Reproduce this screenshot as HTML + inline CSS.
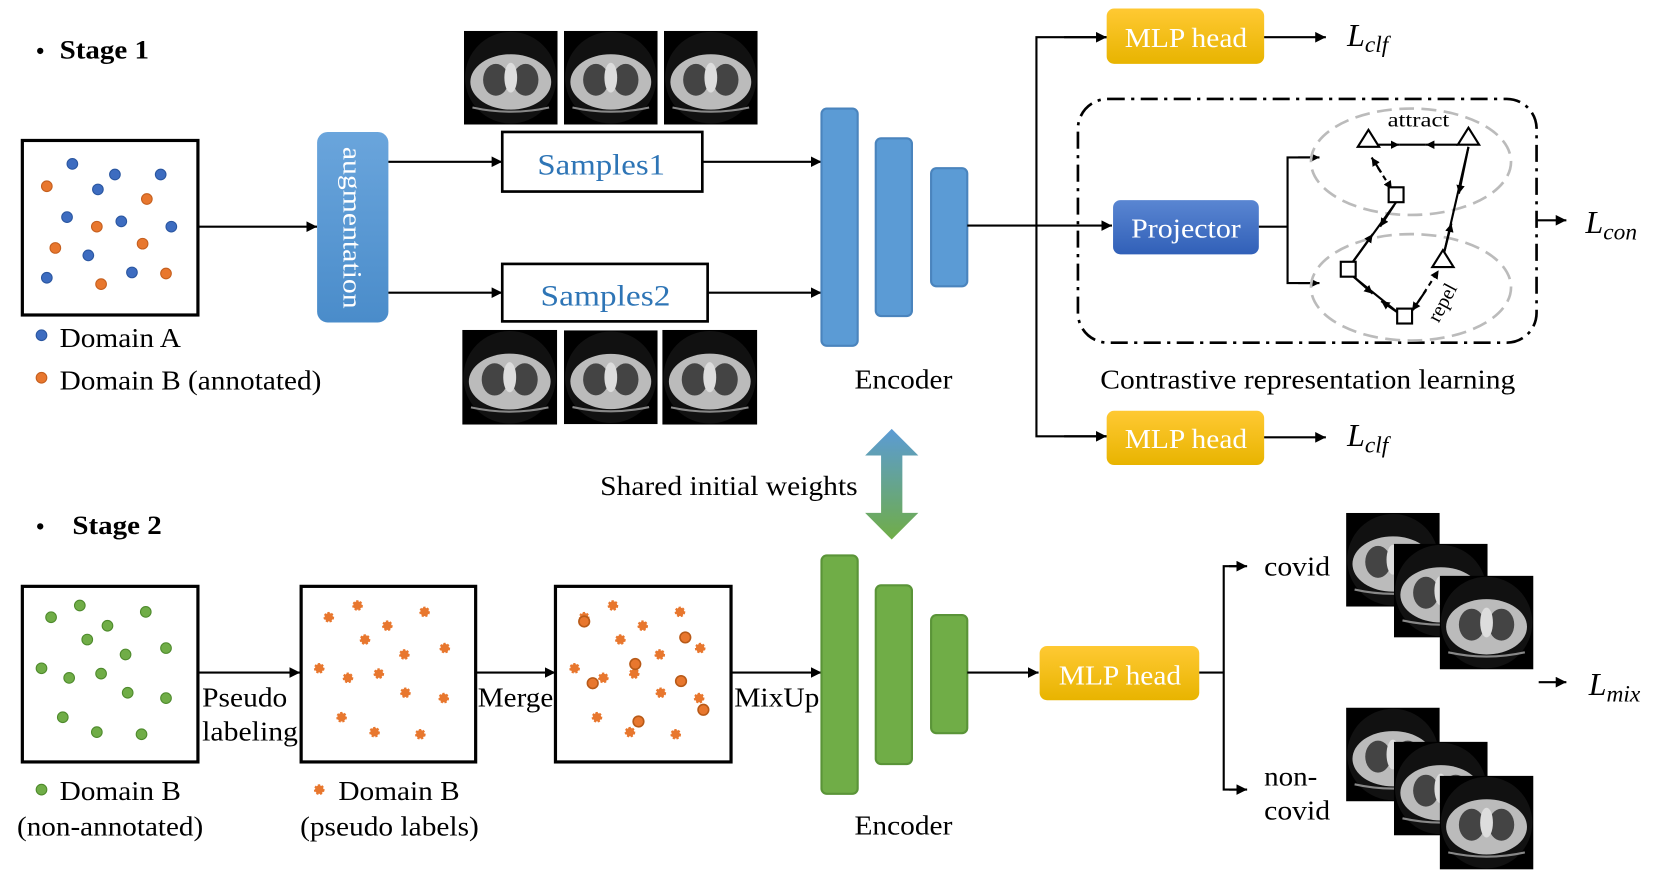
<!DOCTYPE html>
<html><head><meta charset="utf-8"><style>
html,body{margin:0;padding:0;background:#fff;width:1660px;height:879px;overflow:hidden}
svg{display:block}
text{font-family:"Liberation Serif",serif;}
</style></head><body>
<svg width="1660" height="879" viewBox="0 0 1560 826" preserveAspectRatio="none" xmlns="http://www.w3.org/2000/svg">
<defs>
<marker id="ah" viewBox="0 0 10 10" refX="10" refY="5" markerWidth="5" markerHeight="5" orient="auto"><path d="M0,0L10,5L0,10z" fill="#000"/></marker>
<marker id="as" viewBox="0 0 10 10" refX="10" refY="5" markerWidth="4" markerHeight="4" orient="auto"><path d="M0,0L10,5L0,10z" fill="#000"/></marker>
<linearGradient id="gold" x1="0" y1="0" x2="0" y2="1"><stop offset="0" stop-color="#ffc933"/><stop offset="1" stop-color="#e8b400"/></linearGradient>
<linearGradient id="aug" x1="0" y1="0" x2="0" y2="1"><stop offset="0" stop-color="#6aa5dc"/><stop offset="1" stop-color="#4a8cca"/></linearGradient>
<linearGradient id="proj" x1="0" y1="0" x2="0" y2="1"><stop offset="0" stop-color="#5a86d2"/><stop offset="1" stop-color="#3160b8"/></linearGradient>
<linearGradient id="sh" x1="0" y1="0" x2="0" y2="1"><stop offset="0" stop-color="#5b9bd5"/><stop offset="1" stop-color="#70ad47"/></linearGradient>
<symbol id="ct" viewBox="0 0 88 88">
<rect width="88" height="88" fill="#000"/>
<circle cx="44" cy="44" r="43" fill="#111"/>
<ellipse cx="44" cy="48" rx="38" ry="26" fill="#bbb"/>
<ellipse cx="30" cy="46" rx="12" ry="15" fill="#444"/>
<ellipse cx="58" cy="46" rx="12" ry="15" fill="#444"/>
<ellipse cx="44" cy="44" rx="6" ry="14" fill="#ddd"/>
<path d="M8 72 Q44 80 80 72" stroke="#888" stroke-width="2" fill="none"/>
</symbol>
</defs>

<!-- Stage 1 -->
<text x="34" y="55" font-size="22" font-weight="bold">•</text>
<text x="56" y="55" font-size="25" font-weight="bold" textLength="84" lengthAdjust="spacingAndGlyphs">Stage 1</text>
<rect x="21" y="132" width="165" height="164" fill="#fff" stroke="#000" stroke-width="3"/>
<g fill="#3d6cc0" stroke="#2a56a0" stroke-width="1">
<circle cx="68" cy="154" r="5"/><circle cx="108" cy="164" r="5"/><circle cx="151" cy="164" r="5"/><circle cx="92" cy="178" r="5"/><circle cx="63" cy="204" r="5"/><circle cx="114" cy="208" r="5"/><circle cx="161" cy="213" r="5"/><circle cx="83" cy="240" r="5"/><circle cx="44" cy="261" r="5"/><circle cx="124" cy="256" r="5"/>
<circle cx="39" cy="315" r="5"/></g>
<g fill="#e8772e" stroke="#c55f1e" stroke-width="1">
<circle cx="44" cy="175" r="5"/><circle cx="138" cy="187" r="5"/><circle cx="91" cy="213" r="5"/><circle cx="52" cy="233" r="5"/><circle cx="134" cy="229" r="5"/><circle cx="95" cy="267" r="5"/><circle cx="156" cy="257" r="5"/>
<circle cx="39" cy="355" r="5"/></g>
<text x="56" y="326" font-size="26" textLength="114" lengthAdjust="spacingAndGlyphs">Domain A</text>
<text x="56" y="366" font-size="26" textLength="246" lengthAdjust="spacingAndGlyphs">Domain B (annotated)</text>
<line x1="186" y1="213" x2="298" y2="213" stroke="#000" stroke-width="2" marker-end="url(#ah)"/>
<rect x="298" y="124" width="67" height="179" rx="10" fill="url(#aug)"/>
<text transform="translate(323,138) rotate(90)" font-size="25" fill="#fff" textLength="152" lengthAdjust="spacingAndGlyphs">augmentation</text>
<line x1="365" y1="152" x2="472" y2="152" stroke="#000" stroke-width="2" marker-end="url(#ah)"/>
<line x1="365" y1="275" x2="472" y2="275" stroke="#000" stroke-width="2" marker-end="url(#ah)"/>
<rect x="472" y="124" width="188" height="56" fill="#fff" stroke="#000" stroke-width="2.5"/>
<text x="505" y="164" font-size="28" fill="#2e75b6" textLength="120" lengthAdjust="spacingAndGlyphs">Samples1</text>
<rect x="472" y="248" width="193" height="54" fill="#fff" stroke="#000" stroke-width="2.5"/>
<text x="508" y="287" font-size="28" fill="#2e75b6" textLength="122" lengthAdjust="spacingAndGlyphs">Samples2</text>
<line x1="660" y1="152" x2="772" y2="152" stroke="#000" stroke-width="2" marker-end="url(#ah)"/>
<line x1="665" y1="275" x2="772" y2="275" stroke="#000" stroke-width="2" marker-end="url(#ah)"/>
<use href="#ct" x="436" y="29" width="88" height="88"/>
<use href="#ct" x="530" y="29" width="88" height="88"/>
<use href="#ct" x="624" y="29" width="88" height="88"/>
<use href="#ct" x="434" y="310" width="90" height="89"/>
<use href="#ct" x="530" y="310" width="88" height="89"/>
<use href="#ct" x="622" y="310" width="90" height="89"/>
<g fill="#5b9bd5" stroke="#4a84bd" stroke-width="2">
<rect x="772" y="102" width="34" height="223" rx="5"/><rect x="823" y="130" width="34" height="167" rx="5"/><rect x="875" y="158" width="34" height="111" rx="5"/></g>
<text x="803" y="365" font-size="26" textLength="92" lengthAdjust="spacingAndGlyphs">Encoder</text>
<line x1="909" y1="212" x2="1045" y2="212" stroke="#000" stroke-width="2" marker-end="url(#ah)"/>
<polyline points="1040,35 974,35 974,410 1040,410" fill="none" stroke="#000" stroke-width="2"/>
<line x1="1000" y1="35" x2="1040" y2="35" stroke="#000" stroke-width="2" marker-end="url(#ah)"/>
<line x1="1000" y1="410" x2="1040" y2="410" stroke="#000" stroke-width="2" marker-end="url(#ah)"/>
<rect x="1040" y="8" width="148" height="52" rx="7" fill="url(#gold)"/>
<text x="1057" y="44" font-size="26" fill="#fff" textLength="115" lengthAdjust="spacingAndGlyphs">MLP head</text>
<line x1="1188" y1="35" x2="1246" y2="35" stroke="#000" stroke-width="2" marker-end="url(#ah)"/>
<text x="1266" y="43" font-size="30" font-style="italic">L<tspan font-size="22" dy="6">clf</tspan></text>
<rect x="1040" y="386" width="148" height="51" rx="7" fill="url(#gold)"/>
<text x="1057" y="421" font-size="26" fill="#fff" textLength="115" lengthAdjust="spacingAndGlyphs">MLP head</text>
<line x1="1188" y1="411" x2="1246" y2="411" stroke="#000" stroke-width="2" marker-end="url(#ah)"/>
<text x="1266" y="419" font-size="30" font-style="italic">L<tspan font-size="22" dy="6">clf</tspan></text>
<rect x="1013" y="93" width="431" height="229" rx="28" fill="none" stroke="#000" stroke-width="2.5" stroke-dasharray="16,6,3,6"/>
<rect x="1046" y="188" width="137" height="51" rx="7" fill="url(#proj)"/>
<text x="1063" y="223" font-size="26" fill="#fff" textLength="103" lengthAdjust="spacingAndGlyphs">Projector</text>
<polyline points="1183,213 1210,213" fill="none" stroke="#000" stroke-width="2"/>
<polyline points="1238,148 1210,148 1210,266 1238,266" fill="none" stroke="#000" stroke-width="2"/>
<line x1="1220" y1="148" x2="1240" y2="148" stroke="#000" stroke-width="2" marker-end="url(#as)"/>
<line x1="1220" y1="266" x2="1240" y2="266" stroke="#000" stroke-width="2" marker-end="url(#as)"/>
<ellipse cx="1326" cy="152" rx="94" ry="50" fill="none" stroke="#bbb" stroke-width="2.5" stroke-dasharray="14,7"/>
<ellipse cx="1326" cy="270" rx="94" ry="50" fill="none" stroke="#bbb" stroke-width="2.5" stroke-dasharray="14,7"/>
<g stroke="#000" stroke-width="2" fill="none">
<line x1="1295" y1="136" x2="1315" y2="136" marker-end="url(#as)"/>
<line x1="1370" y1="136" x2="1340" y2="136" marker-end="url(#as)"/>
<line x1="1315" y1="136" x2="1340" y2="136"/>
<line x1="1290" y1="150" x2="1308" y2="178" stroke-dasharray="5,4" marker-end="url(#as)"/>
<line x1="1298" y1="162" x2="1289" y2="148" marker-end="url(#as)"/>
<line x1="1380" y1="138" x2="1357" y2="238"/>
<line x1="1380" y1="138" x2="1371" y2="182" marker-end="url(#as)"/>
<line x1="1357" y1="238" x2="1364" y2="210" marker-end="url(#as)"/>
<line x1="1312" y1="190" x2="1270" y2="248"/>
<line x1="1310" y1="193" x2="1297" y2="213" marker-end="url(#as)"/>
<line x1="1270" y1="248" x2="1290" y2="220" marker-end="url(#as)"/>
<line x1="1272" y1="260" x2="1314" y2="294"/>
<line x1="1272" y1="260" x2="1290" y2="276" marker-end="url(#as)"/>
<line x1="1314" y1="294" x2="1298" y2="283" marker-end="url(#as)"/>
<line x1="1328" y1="291" x2="1352" y2="254" stroke-dasharray="5,4" marker-end="url(#as)"/>
<line x1="1340" y1="273" x2="1327" y2="292" marker-end="url(#as)"/>
</g>
<g fill="#fff" stroke="#000" stroke-width="2">
<path d="M1286,122 L1296,138 L1276,138 Z"/><path d="M1380,120 L1390,136 L1370,136 Z"/><path d="M1356,235 L1366,251 L1346,251 Z"/>
<rect x="1305" y="176" width="14" height="14"/><rect x="1260" y="246" width="14" height="14"/><rect x="1313" y="290" width="14" height="14"/></g>
<text x="1304" y="119" font-size="19" textLength="58" lengthAdjust="spacingAndGlyphs">attract</text>
<text transform="translate(1352,304) rotate(-62)" font-size="19">repel</text>
<line x1="1445" y1="207" x2="1472" y2="207" stroke="#000" stroke-width="2" marker-end="url(#ah)"/>
<text x="1490" y="219" font-size="30" font-style="italic">L<tspan font-size="22" dy="6">con</tspan></text>
<text x="1034" y="365" font-size="26" textLength="390" lengthAdjust="spacingAndGlyphs">Contrastive representation learning</text>
<path d="M838,403 L863,428 L848,428 L848,482 L863,482 L838,507 L813,482 L828,482 L828,428 L813,428 Z" fill="url(#sh)"/>
<text x="564" y="465" font-size="26" textLength="242" lengthAdjust="spacingAndGlyphs">Shared initial weights</text>

<!-- Stage 2 -->
<text x="34" y="502" font-size="22" font-weight="bold">•</text>
<text x="68" y="502" font-size="25" font-weight="bold" textLength="84" lengthAdjust="spacingAndGlyphs">Stage 2</text>
<rect x="21" y="551" width="165" height="165" fill="#fff" stroke="#000" stroke-width="3"/>
<rect x="283" y="551" width="164" height="165" fill="#fff" stroke="#000" stroke-width="3"/>
<rect x="522" y="551" width="165" height="165" fill="#fff" stroke="#000" stroke-width="3"/>
<g fill="#70ad47" stroke="#4e8a2c" stroke-width="1">
<circle cx="48" cy="580" r="5"/><circle cx="75" cy="569" r="5"/><circle cx="101" cy="588" r="5"/><circle cx="137" cy="575" r="5"/><circle cx="82" cy="601" r="5"/><circle cx="118" cy="615" r="5"/><circle cx="156" cy="609" r="5"/><circle cx="39" cy="628" r="5"/><circle cx="65" cy="637" r="5"/><circle cx="95" cy="633" r="5"/><circle cx="120" cy="651" r="5"/><circle cx="156" cy="656" r="5"/><circle cx="59" cy="674" r="5"/><circle cx="91" cy="688" r="5"/><circle cx="133" cy="690" r="5"/>
<circle cx="39" cy="742" r="5"/></g>
<g fill="#e8772e" stroke="#e8772e" stroke-width="2" stroke-dasharray="2,1.5">
<circle cx="309" cy="580" r="4"/><circle cx="336" cy="569" r="4"/><circle cx="364" cy="588" r="4"/><circle cx="399" cy="575" r="4"/><circle cx="343" cy="601" r="4"/><circle cx="380" cy="615" r="4"/><circle cx="418" cy="609" r="4"/><circle cx="300" cy="628" r="4"/><circle cx="327" cy="637" r="4"/><circle cx="356" cy="633" r="4"/><circle cx="381" cy="651" r="4"/><circle cx="417" cy="656" r="4"/><circle cx="321" cy="674" r="4"/><circle cx="352" cy="688" r="4"/><circle cx="395" cy="690" r="4"/>
<circle cx="300" cy="742" r="4"/>
<circle cx="549" cy="580" r="4"/><circle cx="576" cy="569" r="4"/><circle cx="604" cy="588" r="4"/><circle cx="639" cy="575" r="4"/><circle cx="583" cy="601" r="4"/><circle cx="620" cy="615" r="4"/><circle cx="658" cy="609" r="4"/><circle cx="540" cy="628" r="4"/><circle cx="567" cy="637" r="4"/><circle cx="596" cy="633" r="4"/><circle cx="621" cy="651" r="4"/><circle cx="657" cy="656" r="4"/><circle cx="561" cy="674" r="4"/><circle cx="592" cy="688" r="4"/><circle cx="635" cy="690" r="4"/></g>
<g fill="#e8772e" stroke="#b85a18" stroke-width="1.5">
<circle cx="549" cy="584" r="5"/><circle cx="644" cy="599" r="5"/><circle cx="597" cy="624" r="5"/><circle cx="557" cy="642" r="5"/><circle cx="640" cy="640" r="5"/><circle cx="661" cy="667" r="5"/><circle cx="600" cy="678" r="5"/></g>
<text x="56" y="752" font-size="26" textLength="114" lengthAdjust="spacingAndGlyphs">Domain B</text>
<text x="16" y="785" font-size="26" textLength="175" lengthAdjust="spacingAndGlyphs">(non-annotated)</text>
<text x="318" y="752" font-size="26" textLength="114" lengthAdjust="spacingAndGlyphs">Domain B</text>
<text x="282" y="785" font-size="26" textLength="168" lengthAdjust="spacingAndGlyphs">(pseudo labels)</text>
<line x1="186" y1="632" x2="282" y2="632" stroke="#000" stroke-width="2" marker-end="url(#ah)"/>
<line x1="447" y1="632" x2="522" y2="632" stroke="#000" stroke-width="2" marker-end="url(#ah)"/>
<line x1="687" y1="632" x2="772" y2="632" stroke="#000" stroke-width="2" marker-end="url(#ah)"/>
<text x="190" y="664" font-size="26" textLength="80" lengthAdjust="spacingAndGlyphs">Pseudo</text>
<text x="190" y="696" font-size="26" textLength="90" lengthAdjust="spacingAndGlyphs">labeling</text>
<text x="449" y="664" font-size="26" textLength="71" lengthAdjust="spacingAndGlyphs">Merge</text>
<text x="690" y="664" font-size="26" textLength="80" lengthAdjust="spacingAndGlyphs">MixUp</text>
<g fill="#70ad47" stroke="#5a9438" stroke-width="2">
<rect x="772" y="522" width="34" height="224" rx="5"/><rect x="823" y="550" width="34" height="168" rx="5"/><rect x="875" y="578" width="34" height="111" rx="5"/></g>
<text x="803" y="784" font-size="26" textLength="92" lengthAdjust="spacingAndGlyphs">Encoder</text>
<line x1="909" y1="632" x2="976" y2="632" stroke="#000" stroke-width="2" marker-end="url(#ah)"/>
<rect x="977" y="607" width="150" height="51" rx="7" fill="url(#gold)"/>
<text x="995" y="643" font-size="26" fill="#fff" textLength="115" lengthAdjust="spacingAndGlyphs">MLP head</text>
<polyline points="1127,632 1150,632" fill="none" stroke="#000" stroke-width="2"/>
<polyline points="1170,532 1150,532 1150,742 1170,742" fill="none" stroke="#000" stroke-width="2"/>
<line x1="1155" y1="532" x2="1172" y2="532" stroke="#000" stroke-width="2" marker-end="url(#ah)"/>
<line x1="1155" y1="742" x2="1172" y2="742" stroke="#000" stroke-width="2" marker-end="url(#ah)"/>
<text x="1188" y="541" font-size="26" textLength="62" lengthAdjust="spacingAndGlyphs">covid</text>
<text x="1188" y="738" font-size="26" textLength="50" lengthAdjust="spacingAndGlyphs">non-</text>
<text x="1188" y="770" font-size="26" textLength="62" lengthAdjust="spacingAndGlyphs">covid</text>
<use href="#ct" x="1265" y="482" width="88" height="88"/>
<use href="#ct" x="1310" y="511" width="88" height="88"/>
<use href="#ct" x="1353" y="541" width="88" height="88"/>
<use href="#ct" x="1265" y="665" width="88" height="88"/>
<use href="#ct" x="1310" y="697" width="88" height="88"/>
<use href="#ct" x="1353" y="729" width="88" height="88"/>
<line x1="1446" y1="641" x2="1472" y2="641" stroke="#000" stroke-width="2" marker-end="url(#ah)"/>
<text x="1493" y="653" font-size="30" font-style="italic">L<tspan font-size="22" dy="6">mix</tspan></text>
</svg>
</body></html>
